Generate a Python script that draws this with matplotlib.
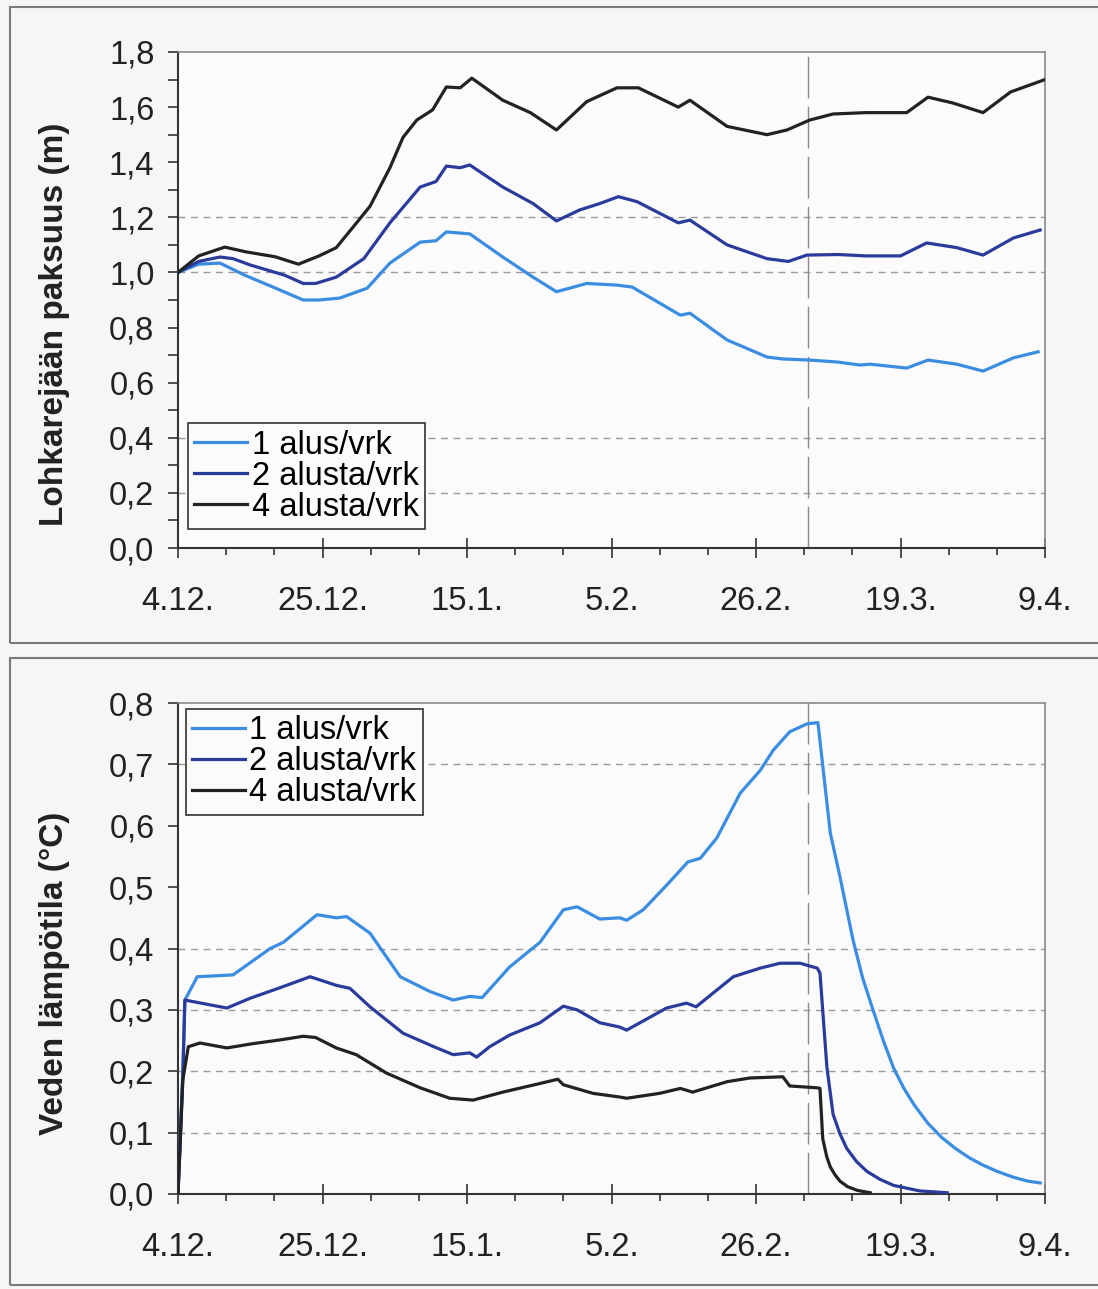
import numpy as np
import matplotlib
matplotlib.use("Agg")
import matplotlib.pyplot as plt
from matplotlib.patches import Rectangle
from matplotlib.ticker import MultipleLocator, FuncFormatter

plt.rcParams['font.family'] = ['Liberation Sans', 'DejaVu Sans']

# Päivät 4.12. alkaen
X_TICK_LABELS = ["4.12.", "25.12.", "15.1.", "5.2.", "26.2.", "19.3.", "9.4."]
SERIES_NAMES = ["1 alus/vrk", "2 alusta/vrk", "4 alusta/vrk"]
COLORS = ["#3a8de0", "#2b3b9c", "#222222"]
EVENT_DAY = 91.5

# Lohkarejään paksuus (m)
ICE_DAYS_1 = [0, 3, 6.1, 9.7, 13.8, 18.2, 20.5, 23.5, 27.5, 30.8, 35.2, 37.5, 39, 42.4, 47.2,
              51.6, 55, 59.4, 63.8, 66, 73, 74.4, 79.8, 85.6, 87.9, 91.8, 95.8, 99.1, 100.6,
              105.9, 109, 113.2, 117, 121.4, 125]
ICE_1 = [1.0, 1.03, 1.034, 0.99, 0.947, 0.90, 0.90, 0.907, 0.943, 1.034, 1.11, 1.115, 1.147,
         1.14, 1.056, 0.983, 0.93, 0.96, 0.954, 0.947, 0.845, 0.852, 0.755, 0.693, 0.686,
         0.682, 0.675, 0.664, 0.667, 0.653, 0.682, 0.667, 0.642, 0.69, 0.712]

ICE_DAYS_2 = [0, 3, 6.1, 8, 10.5, 15.5, 18.2, 20, 23, 27, 30.8, 35.2, 37.5, 39, 41, 42.4, 47.2,
              51.6, 55, 58.4, 61.3, 64, 66.7, 72.7, 74.4, 79.8, 85.6, 88.7, 91.4, 96, 100,
              105, 108.8, 113.2, 117, 121.4, 125.3]
ICE_2 = [1.0, 1.04, 1.056, 1.05, 1.027, 0.99, 0.96, 0.96, 0.983, 1.05, 1.18, 1.31, 1.33,
         1.386, 1.38, 1.39, 1.31, 1.25, 1.187, 1.227, 1.25, 1.275, 1.257, 1.18, 1.19, 1.10,
         1.05, 1.04, 1.063, 1.065, 1.06, 1.06, 1.107, 1.09, 1.063, 1.125, 1.154]

ICE_DAYS_4 = [0, 3, 6.8, 9.8, 14.1, 17.5, 20.5, 23, 26.6, 27.9, 30.8, 32.7, 34.7, 37, 39, 41,
              42.7, 47.2, 51.2, 55, 59.4, 63.8, 66.9, 72.7, 74.4, 79.8, 85.6, 88.5, 91.8, 95.2,
              100, 105.9, 109, 112.6, 117, 121, 126]
ICE_4 = [1.0, 1.06, 1.092, 1.075, 1.057, 1.03, 1.06, 1.09, 1.20, 1.24, 1.38, 1.49, 1.553,
         1.59, 1.673, 1.67, 1.705, 1.625, 1.58, 1.517, 1.62, 1.67, 1.67, 1.60, 1.625, 1.53,
         1.50, 1.517, 1.553, 1.575, 1.58, 1.58, 1.636, 1.615, 1.58, 1.655, 1.70]

# Veden lämpötila (°C)
TEMP_DAYS_1 = [0, 0.7, 1, 2.8, 8, 13.4, 15.3, 20.2, 23, 24.5, 27.9, 32.3, 36.6, 40, 42.4, 44.2,
               48.2, 52.6, 56, 58, 61.3, 64.2, 65.2, 67.6, 71, 74.1, 75.9, 78.3, 81.7, 84.6,
               86.5, 88.9, 91.4, 93, 94.8, 96.2, 98.1, 99.5, 101, 102.5, 104, 105.5, 107,
               109, 111, 113, 115, 117, 119, 121.5, 123.5, 125.3]
TEMP_1 = [0.0, 0.2, 0.316, 0.354, 0.357, 0.40, 0.41, 0.455, 0.45, 0.452, 0.425, 0.354, 0.33,
          0.316, 0.322, 0.32, 0.37, 0.41, 0.463, 0.468, 0.448, 0.45, 0.446, 0.463, 0.503,
          0.541, 0.547, 0.58, 0.653, 0.69, 0.723, 0.753, 0.766, 0.768, 0.588, 0.517, 0.414,
          0.352, 0.30, 0.25, 0.205, 0.172, 0.145, 0.115, 0.092, 0.074, 0.059, 0.047, 0.037,
          0.027, 0.021, 0.018]

TEMP_DAYS_2 = [0, 0.7, 1, 7.1, 10.5, 14.8, 19.2, 23, 25, 27.9, 32.7, 37.6, 40, 42.4, 43.4, 45.3,
               48.2, 52.6, 56, 58, 61.3, 64.2, 65.2, 71, 73.9, 75.3, 80.7, 84.6, 87.5, 90.4,
               92.9, 93.3, 94.3, 95.2, 96.2, 97.2, 98.6, 100.1, 102, 104, 107.8, 111.8]
TEMP_2 = [0.0, 0.19, 0.316, 0.303, 0.319, 0.336, 0.354, 0.34, 0.335, 0.305, 0.262, 0.238,
          0.227, 0.23, 0.223, 0.24, 0.259, 0.279, 0.306, 0.30, 0.279, 0.272, 0.267, 0.303,
          0.311, 0.305, 0.354, 0.368, 0.376, 0.376, 0.368, 0.36, 0.207, 0.13, 0.098, 0.074,
          0.053, 0.037, 0.024, 0.014, 0.005, 0.002]

TEMP_DAYS_4 = [0, 0.7, 1.5, 3.2, 7.1, 10.9, 14.8, 18.2, 20, 23, 25.9, 30.3, 35.2, 39.5, 42.9,
               47.2, 52.2, 55.2, 56, 60.3, 64.2, 65.2, 70, 73, 74.8, 79.8, 83.1, 87.9, 88.9,
               92.9, 93.3, 93.7, 94.3, 94.8, 95.5, 96.2, 97.3, 98.7, 100.6]
TEMP_4 = [0.0, 0.186, 0.24, 0.246, 0.238, 0.245, 0.251, 0.257, 0.255, 0.238, 0.227, 0.197,
          0.173, 0.156, 0.153, 0.166, 0.179, 0.187, 0.178, 0.164, 0.158, 0.156, 0.164, 0.172,
          0.166, 0.183, 0.189, 0.191, 0.176, 0.173, 0.172, 0.09, 0.06, 0.044, 0.031, 0.021,
          0.012, 0.006, 0.002]

# näkyvät apuviivat (skannauksessa osa puuttuu)
GRID_TOP = [0.2, 0.4, 1.0, 1.2]
GRID_BOTTOM = [0.1, 0.2, 0.3, 0.4, 0.7]

W, H = 1098, 1289
fig = plt.figure(figsize=(W / 100, H / 100), dpi=100, facecolor="#f6f6f6")

# paneelien kehykset
for y0, y1 in [(7, 643), (658, 1285)]:
    fig.patches.append(Rectangle((10 / W, 1 - y1 / H), 1.2, (y1 - y0) / H,
                                 transform=fig.transFigure, fill=False,
                                 edgecolor="#7a7a7a", lw=1.5))

comma = FuncFormatter(lambda v, _: f"{v:.1f}".replace(".", ","))


def setup_axes(ax, ymax, major, minor, grid, ylabel):
    ax.set_facecolor("#fbfbfb")
    ax.set_xlim(0, 126)
    ax.set_ylim(0, ymax)
    ax.set_xticks(np.arange(0, 127, 21))
    ax.set_xticklabels(X_TICK_LABELS)
    ax.xaxis.set_minor_locator(MultipleLocator(7))
    ax.yaxis.set_major_locator(MultipleLocator(major))
    if minor:
        ax.yaxis.set_minor_locator(MultipleLocator(minor))
    ax.yaxis.set_major_formatter(comma)
    ax.tick_params(axis="x", which="major", direction="inout", length=15, width=1.2,
                   labelsize=23.5, pad=20, colors="#333333", labelcolor="#222222")
    ax.tick_params(axis="x", which="minor", direction="out", length=5, width=1.2,
                   colors="#333333")
    ax.tick_params(axis="y", which="both", direction="out", length=7, width=1.2,
                   labelsize=23.5, pad=10, colors="#333333", labelcolor="#222222")
    for s in ["left", "bottom"]:
        ax.spines[s].set_color("#333333")
        ax.spines[s].set_linewidth(1.5)
    for s in ["top", "right"]:
        ax.spines[s].set_color("#8a8a8a")
        ax.spines[s].set_linewidth(1.2)
    for g in grid:
        ax.axhline(g, color="#9a9a9a", lw=1, dashes=(5, 4), zorder=1)
    ax.axvline(EVENT_DAY, color="#8a8a8a", lw=1, dashes=(30, 6), zorder=1)
    ax.set_ylabel(ylabel, fontsize=24, fontweight="bold", color="#222222")
    ax.yaxis.set_label_coords(-0.124, 0.45)


ax1 = fig.add_axes([178 / W, 1 - 548 / H, 867 / W, 496 / H])
setup_axes(ax1, 1.8, 0.2, 0.1, GRID_TOP, "Lohkarejään paksuus (m)")
for d, v, c, n in zip([ICE_DAYS_1, ICE_DAYS_2, ICE_DAYS_4], [ICE_1, ICE_2, ICE_4],
                      COLORS, SERIES_NAMES):
    ax1.plot(d, v, color=c, lw=2.3, label=n, zorder=3)

ax2 = fig.add_axes([178 / W, 1 - 1194 / H, 867 / W, 491 / H])
setup_axes(ax2, 0.8, 0.1, None, GRID_BOTTOM, "Veden lämpötila (°C)")
for d, v, c, n in zip([TEMP_DAYS_1, TEMP_DAYS_2, TEMP_DAYS_4], [TEMP_1, TEMP_2, TEMP_4],
                      COLORS, SERIES_NAMES):
    ax2.plot(d, v, color=c, lw=2.3, label=n, zorder=3)

leg_kw = dict(fontsize=23.5, frameon=True, fancybox=False, framealpha=1,
              facecolor="#fbfbfb", edgecolor="#333333", borderaxespad=0,
              borderpad=0.2, handlelength=1.6, handletextpad=0.15, labelspacing=0.0)
l1 = ax1.legend(loc="lower left", bbox_to_anchor=(0.0115, 0.038), **leg_kw)
l2 = ax2.legend(loc="upper left", bbox_to_anchor=(0.009, 0.988), **leg_kw)
for lg in (l1, l2):
    lg.get_frame().set_linewidth(1.2)
    lg.set_zorder(5)

fig.savefig("out.png", dpi=100, facecolor=fig.get_facecolor())
